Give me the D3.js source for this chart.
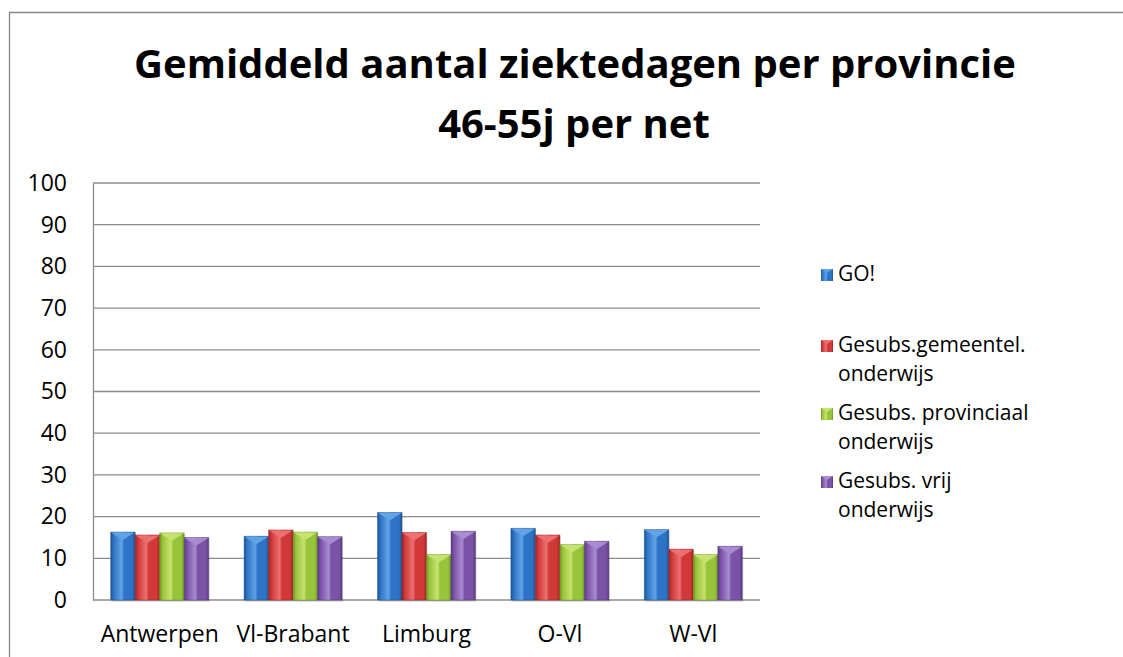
<!DOCTYPE html>
<html>
<head>
<meta charset="utf-8">
<script src="https://cdn.jsdelivr.net/npm/d3@7"></script>
<style>
  body { margin: 0; background: #fff; }
  text { font-family: "Open Sans", Lato, sans-serif; fill: #000; }
</style>
</head>
<body>
<div id="chart"></div>
<script>
// Data
const provinces = ["Antwerpen", "Vl-Brabant", "Limburg", "O-Vl", "W-Vl"];
const seriesNames = ["GO!", "Gesubs.gemeentel. onderwijs", "Gesubs. provinciaal onderwijs", "Gesubs. vrij onderwijs"];
const goValues = [16.3, 15.3, 21.0, 17.2, 16.9];
const gemeentelValues = [15.6, 16.8, 16.2, 15.6, 12.2];
const provinciaalValues = [16.1, 16.3, 10.9, 13.3, 10.9];
const vrijValues = [15.0, 15.2, 16.5, 14.1, 12.9];
const yTicks = [0, 10, 20, 30, 40, 50, 60, 70, 80, 90, 100];
const legendLines = [["GO!"], ["Gesubs.gemeentel.", "onderwijs"], ["Gesubs. provinciaal", "onderwijs"], ["Gesubs. vrij", "onderwijs"]];

const allValues = [goValues, gemeentelValues, provinciaalValues, vrijValues];

// colours: [base, light, dark]
const palette = [
    ["#2e74c6", "#62a2e6", "#1c518f"],
    ["#d13838", "#ec7070", "#9e2424"],
    ["#98c43b", "#c6e26f", "#6f9624"],
    ["#7b53a6", "#a98bd2", "#573a7e"]
];

const width = 1123;
const height = 657;

const svg = d3.select("#chart")
    .append("svg")
    .attr("width", width)
    .attr("height", height);

const defs = svg.append("defs");
palette.forEach((c, i) => {
    const grad = defs.append("linearGradient")
        .attr("id", "bar-grad-" + i)
        .attr("x1", "0%").attr("x2", "100%")
        .attr("y1", "0%").attr("y2", "0%");
    grad.append("stop").attr("offset", "0%").attr("stop-color", c[2]);
    grad.append("stop").attr("offset", "12%").attr("stop-color", c[0]);
    grad.append("stop").attr("offset", "45%").attr("stop-color", c[1]);
    grad.append("stop").attr("offset", "55%").attr("stop-color", c[0]);
    grad.append("stop").attr("offset", "88%").attr("stop-color", c[0]);
    grad.append("stop").attr("offset", "100%").attr("stop-color", c[2]);
});

// Outer chart border (runs off the page right and bottom)
svg.append("path")
    .attr("d", `M9.5,${height + 5} V12.5 H${width + 5}`)
    .attr("fill", "none")
    .attr("stroke", "#868686")
    .attr("stroke-width", 1.3);

// Title
const title = svg.append("text")
    .attr("text-anchor", "middle")
    .style("font-weight", "bold")
    .style("font-size", "40px");
title.append("tspan").attr("x", 575).attr("y", 78).text("Gemiddeld aantal ziektedagen per provincie");
title.append("tspan").attr("x", 574).attr("y", 138).text("46-55j per net");

// Scales
const plotLeft = 93, plotRight = 760, plotTop = 183, plotBottom = 600;

const x = d3.scaleBand()
    .domain(provinces)
    .range([plotLeft, plotRight])
    .paddingInner(0.265)
    .paddingOuter(0.1325);

const xSeries = d3.scaleBand()
    .domain(d3.range(seriesNames.length))
    .range([0, x.bandwidth()]);

const y = d3.scaleLinear()
    .domain([0, 100])
    .range([plotBottom, plotTop]);

// Gridlines
svg.append("g")
    .selectAll("line")
    .data(yTicks)
    .enter()
    .append("line")
    .attr("x1", plotLeft)
    .attr("x2", plotRight)
    .attr("y1", d => y(d))
    .attr("y2", d => y(d))
    .attr("stroke", "#8c8c8c")
    .attr("stroke-width", 1.3);

// Y axis
const yAxis = svg.append("g")
    .attr("transform", `translate(${plotLeft},0)`)
    .call(d3.axisLeft(y).tickValues(yTicks).tickSize(0).tickPadding(26));
yAxis.select(".domain").attr("stroke", "#8c8c8c").attr("stroke-width", 1.3);
yAxis.selectAll("text").style("font-size", "23px").style("font-family", "'Open Sans', sans-serif").attr("fill", "#000");

// X axis labels
const xAxis = svg.append("g")
    .attr("transform", `translate(0,${plotBottom})`)
    .call(d3.axisBottom(x).tickSize(0).tickPadding(26));
xAxis.select(".domain").remove();
xAxis.selectAll("text").style("font-size", "23px").style("font-family", "'Open Sans', sans-serif").attr("fill", "#000");

// Bars
const bars = [];
provinces.forEach((p, pi) => {
    allValues.forEach((vals, si) => {
        bars.push({ province: p, series: si, value: vals[pi] });
    });
});

const barG = svg.append("g")
    .selectAll(".bar")
    .data(bars)
    .enter()
    .append("g")
    .attr("class", "bar")
    .attr("transform", d => `translate(${x(d.province) + xSeries(d.series)},0)`);

const bw = xSeries.bandwidth();

// soft shadow
barG.append("rect")
    .attr("x", 1)
    .attr("y", d => y(d.value) + 1)
    .attr("width", bw)
    .attr("height", d => plotBottom - y(d.value) + 1)
    .attr("fill", "#000")
    .attr("opacity", 0.12);

barG.append("rect")
    .attr("x", 0)
    .attr("y", d => y(d.value))
    .attr("width", bw)
    .attr("height", d => plotBottom - y(d.value))
    .attr("fill", d => `url(#bar-grad-${d.series})`)
    .attr("stroke", d => palette[d.series][2])
    .attr("stroke-opacity", 0.5)
    .attr("stroke-width", 0.8);

// bevelled top
barG.append("path")
    .attr("d", d => {
        const t = y(d.value);
        return `M0.5,${t + 0.5} H${bw - 0.5} L${bw / 2},${t + 8} Z`;
    })
    .attr("fill", d => palette[d.series][1]);

// Legend
const legend = svg.append("g")
    .selectAll(".legend")
    .data(legendLines)
    .enter()
    .append("g")
    .attr("class", "legend")
    .attr("transform", (d, i) => `translate(821,${i === 0 ? 281 : 352 + (i - 1) * 68})`);

legend.append("rect")
    .attr("x", 0)
    .attr("y", -12)
    .attr("width", 12)
    .attr("height", 12)
    .attr("fill", (d, i) => `url(#bar-grad-${i})`);

legend.append("path")
    .attr("d", "M0,-12 H12 L6,-8 Z")
    .attr("fill", (d, i) => palette[i][1]);

legend.append("text")
    .style("font-size", "21px")
    .selectAll("tspan")
    .data(d => d)
    .enter()
    .append("tspan")
    .attr("x", 17)
    .attr("y", (d, j) => j * 28.5)
    .text(d => d);
</script>
</body>
</html>
